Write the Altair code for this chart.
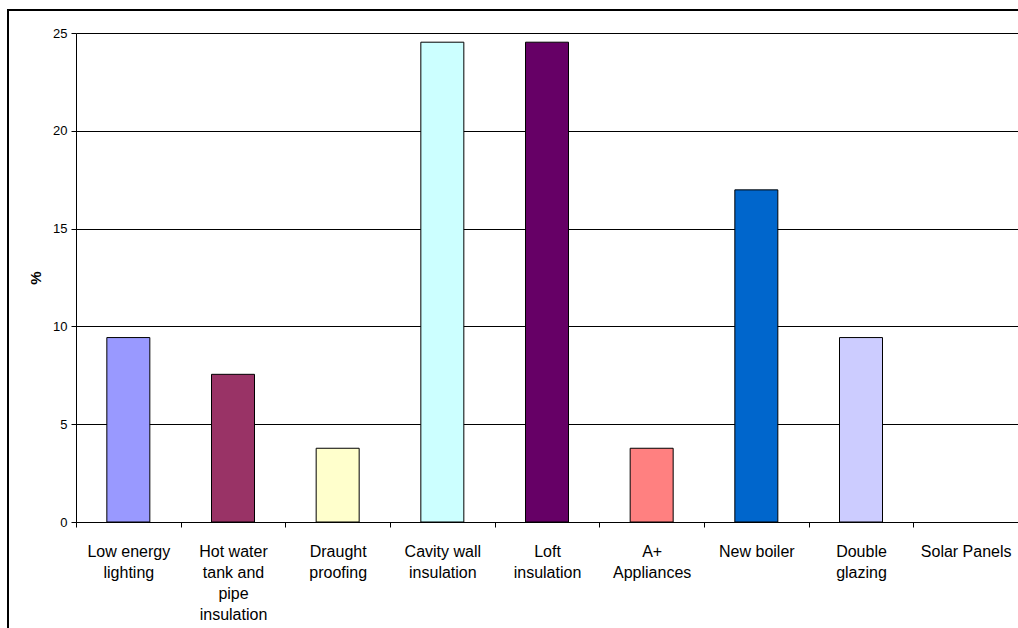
import altair as alt
import pandas as pd

categories = [
    "Low energy|lighting",
    "Hot water|tank and|pipe|insulation",
    "Draught|proofing",
    "Cavity wall|insulation",
    "Loft|insulation",
    "A+|Appliances",
    "New boiler",
    "Double|glazing",
    "Solar Panels",
]
values = [9.43, 7.55, 3.77, 24.53, 24.53, 3.77, 16.98, 9.43, 0.0]
colors = ["#9999FF", "#993366", "#FFFFCC", "#CCFFFF", "#660066",
          "#FF8080", "#0066CC", "#CCCCFF", "#FFFFFF"]
y_ticks = [0, 5, 10, 15, 20, 25]

df = pd.DataFrame({"cat": categories, "val": values, "color": colors})

FONT = "Liberation Sans"

bars = alt.Chart(df).mark_bar(size=43, stroke="black", strokeWidth=1).encode(
    x=alt.X("cat:N", sort=categories, title=None,
            scale=alt.Scale(paddingInner=0, paddingOuter=0),
            axis=alt.Axis(labelExpr="split(datum.label, '|')", labelAngle=0,
                          labelAlign="center", labelBaseline="top",
                          labelFont=FONT, labelFontSize=16, labelColor="black",
                          labelLineHeight=21, labelPadding=16,
                          tickBand="extent", tickSize=5, tickColor="black",
                          domainColor="black", grid=False,
                          labelLimit=300)),
    y=alt.Y("val:Q", title="%",
            scale=alt.Scale(domain=[0, 25], nice=False),
            axis=alt.Axis(values=y_ticks, tickSize=5, tickColor="black",
                          domainColor="black", gridColor="black", gridOpacity=1,
                          labelFont=FONT, labelFontSize=13, labelColor="black",
                          labelPadding=4,
                          titleFont=FONT, titleFontSize=15, titleFontWeight="bold",
                          titleColor="black", titleAngle=-90, titlePadding=9)),
    color=alt.Color("color:N", scale=None, legend=None),
    strokeOpacity=alt.condition(alt.datum.val > 0, alt.value(1), alt.value(0)),
)

frame = alt.Chart(df).mark_rect(fill=None, stroke="black", strokeWidth=2, clip=False).encode(
    x=alt.value(-68), x2=alt.value(1200), y=alt.value(-23), y2=alt.value(900)
)

chart = alt.layer(frame, bars).properties(
    width=942, height=489,
    autosize=alt.AutoSizeParams(type="none"),
    padding={"left": 76, "top": 33, "right": 0, "bottom": 106},
    background="white",
).configure_view(stroke=None)

chart.save("out.html", embed_options={"renderer": "svg", "actions": False})
